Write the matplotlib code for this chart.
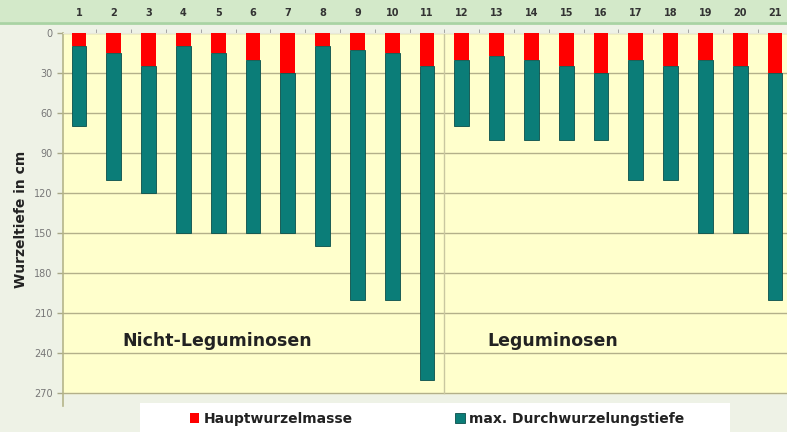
import numpy as np
import matplotlib
matplotlib.use("Agg")
from matplotlib import pyplot as plt
from matplotlib.patches import Rectangle
from matplotlib.lines import Line2D

# data (cm)
plants = list(range(1, 22))
haupt = [10, 15, 25, 10, 15, 20, 30, 10, 13, 15, 25,
         20, 17, 20, 25, 30, 20, 25, 20, 25, 30]
maxtief = [70, 110, 120, 150, 150, 150, 150, 160, 200, 200, 260,
           70, 80, 80, 80, 80, 110, 110, 150, 150, 200]
yticks = [0, 30, 60, 90, 120, 150, 180, 210, 240, 270]

W, H = 787, 432
fig = plt.figure(figsize=(W / 100, H / 100), dpi=100)
fig.patch.set_facecolor("#eef2e6")

# header band
fig.patches.append(Rectangle((0, (H - 22) / H), 1, 22 / H, transform=fig.transFigure,
                             facecolor="#d3e9c9", edgecolor="none", zorder=-2))
fig.lines.append(Line2D([0, 1], [(H - 23) / H] * 2, transform=fig.transFigure,
                        color="#a9d3a3", lw=2, zorder=-1))

ax = fig.add_axes([63 / W, (H - 406.3) / H, 1 - 63 / W, (406.3 - 33) / H])
ax.set_facecolor("none")
ax.axhspan(0, 270, color="#ffffcc", zorder=0)

x = np.array(plants)
teal_h = np.array(maxtief) - np.array(haupt)
b1 = ax.bar(x, haupt, width=0.42, color="#ff0000", edgecolor="none", zorder=3,
            label="Hauptwurzelmasse")
b2 = ax.bar(x, teal_h, bottom=haupt, width=0.42, color="#0b7d78", edgecolor="#0a4f4a",
            linewidth=0.6, zorder=3, label="max. Durchwurzelungstiefe")

ax.set_xlim(0.54, 21.345)
ax.set_ylim(280, 0)
for v in yticks:
    ax.axhline(v, color="#b3b08a", lw=1, zorder=1)
ax.plot([11.5, 11.5], [0, 270], color="#c9c7a0", lw=1, zorder=1)

ax.xaxis.tick_top()
ax.set_xticks(x)
ax.set_xticklabels([str(p) for p in plants], fontsize=7, fontweight="bold", color="#333333")
ax.tick_params(axis="x", which="major", length=0, pad=11, labeltop=True)
ax.set_xticks(x[:-1] + 0.5, minor=True)
ax.tick_params(axis="x", which="minor", length=3, color="#999999", direction="out")
ax.set_yticks(yticks)
ax.set_yticklabels([str(v) for v in yticks], fontsize=7, color="#777777")
ax.tick_params(axis="y", length=4, color="#a8a888", width=1)

for s in ["right", "bottom"]:
    ax.spines[s].set_visible(False)
ax.spines["top"].set_color("#e8e8d8")
ax.spines["left"].set_color("#b5b58a")
ax.spines["left"].set_linewidth(1.2)

ax.set_ylabel("Wurzeltiefe in cm", fontsize=10, fontweight="bold", color="#222222", labelpad=4)

ax.text(4.97, 231, "Nicht-Leguminosen", fontsize=12.5, fontweight="bold", color="#222222",
        ha="center", va="center", zorder=4)
ax.text(14.6, 231, "Leguminosen", fontsize=12.5, fontweight="bold", color="#222222",
        ha="center", va="center", zorder=4)

fig.patches.append(Rectangle((140 / W, 0), 590 / W, 29 / H, transform=fig.transFigure,
                             facecolor="white", edgecolor="none", zorder=-1))
leg = fig.legend(handles=[b1, b2], loc="center", bbox_to_anchor=(437 / W, 13 / H), ncol=2,
                 frameon=False, fontsize=10, handlelength=0.7, handleheight=0.7,
                 handletextpad=0.3, columnspacing=7.4, borderpad=0)
for t in leg.get_texts():
    t.set_fontweight("bold")
    t.set_color("#222222")

fig.savefig("out.png", dpi=100, facecolor=fig.get_facecolor())
